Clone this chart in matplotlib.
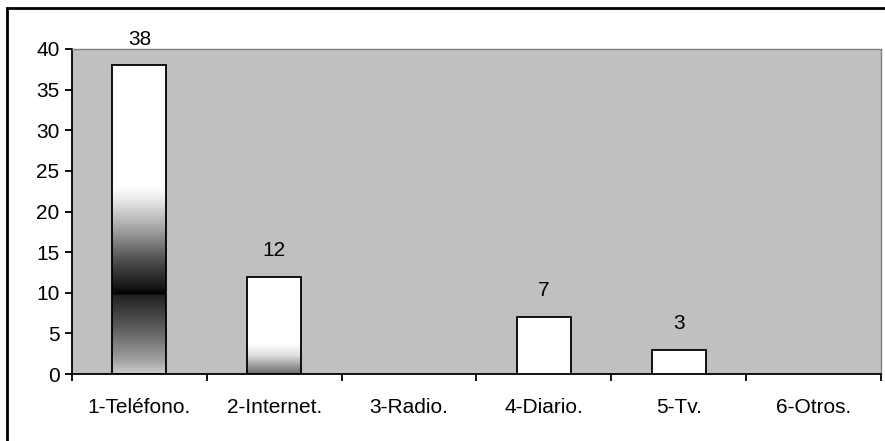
import matplotlib.pyplot as plt
import matplotlib.patches as mpatches
import numpy as np

plt.rcParams['font.family'] = ['Liberation Sans', 'DejaVu Sans']

# Datos
categorias = ['1-Teléfono.', '2-Internet.', '3-Radio.', '4-Diario.', '5-Tv.', '6-Otros.']
valores = [38, 12, 0, 7, 3, 0]

# degradados de gris por barra (valor, nivel de gris)
degradados = {
    0: [(0, 0.80), (1.7, 0.63), (5.4, 0.38), (9.79, 0.12), (9.8, 0.0),
        (10.3, 0.06), (14, 0.31), (17.7, 0.63), (21.4, 0.91), (23, 1.0), (38, 1.0)],
    1: [(0, 0.42), (1.1, 0.63), (2.3, 0.88), (3.8, 1.0), (12, 1.0)],
}

fs = 15

fig = plt.figure(figsize=(8.85, 4.41), dpi=100)
ax = fig.add_axes([72 / 885, 1 - 374 / 441, 809 / 885, 325 / 441])
ax.set_facecolor('#c0c0c0')

x = np.arange(len(categorias))
ancho = 0.4
for i, v in enumerate(valores):
    if v <= 0:
        continue
    rect = mpatches.Rectangle((x[i] - ancho / 2, 0), ancho, v, facecolor='white',
                              edgecolor='black', linewidth=1.3, zorder=3)
    ax.add_patch(rect)
    if i in degradados:
        stops = degradados[i]
        ys = np.linspace(0, v, 400)
        g = np.interp(ys, [s[0] for s in stops], [s[1] for s in stops])
        img = ax.imshow(g[:, None], cmap='gray', vmin=0, vmax=1, origin='lower',
                        extent=(x[i] - ancho / 2, x[i] + ancho / 2, 0, v),
                        aspect='auto', interpolation='bilinear', zorder=2)
        img.set_clip_path(rect)
        rect.set_facecolor('none')
    ax.annotate(str(v), (x[i], v), xytext=(0, 12), textcoords='offset points',
                ha='center', va='bottom', fontsize=fs, annotation_clip=False)

ax.set_xlim(-0.5, len(categorias) - 0.5)
ax.set_ylim(0, 40)
ax.set_yticks(range(0, 41, 5))
ax.set_xticks(np.arange(-0.5, len(categorias), 1))
ax.set_xticklabels([])
ax.set_xticks(x, minor=True)
ax.set_xticklabels(categorias, minor=True)
ax.tick_params(axis='x', which='minor', length=0, pad=17, labelsize=fs)
ax.tick_params(axis='x', which='major', length=5, width=1.3, direction='out')
ax.tick_params(axis='y', length=5, width=1.3, labelsize=fs, pad=4)

for s in ['top', 'right']:
    ax.spines[s].set_color('#808080')
    ax.spines[s].set_linewidth(1)
for s in ['left', 'bottom']:
    ax.spines[s].set_linewidth(1.3)

# borde exterior
fig.patches.append(mpatches.Rectangle((7 / 885, -0.1), 1.1, 1 - 8 / 441 + 0.1,
                                      transform=fig.transFigure, fill=False,
                                      edgecolor='black', linewidth=2))

plt.savefig('out.png', dpi=100)
